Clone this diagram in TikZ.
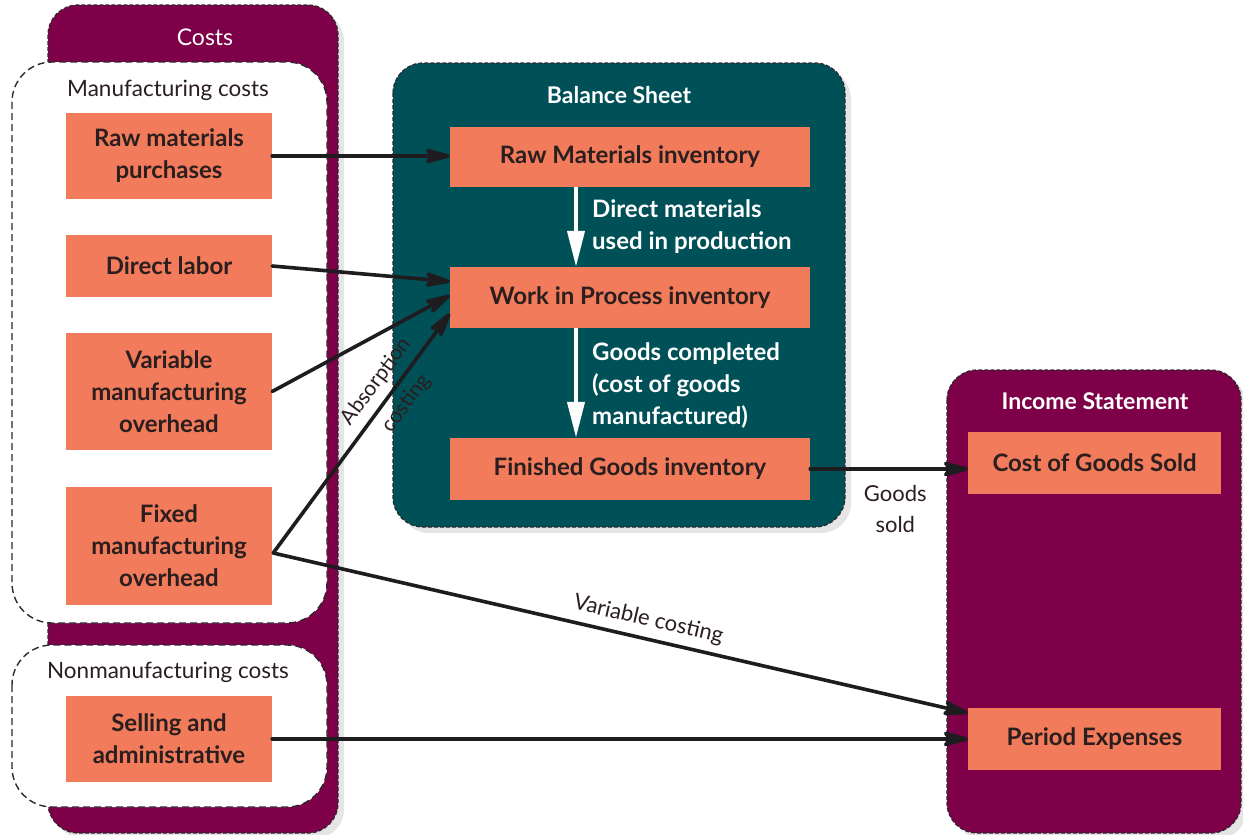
\documentclass[tikz,border=0pt]{standalone}
\usepackage{fontspec}
\setmainfont{Lato}
\usetikzlibrary{arrows.meta,calc,shadows}
\definecolor{cpurple}{RGB}{125,0,72}
\definecolor{cteal}{RGB}{0,80,88}
\definecolor{corange}{RGB}{241,123,90}
\definecolor{ctext}{RGB}{42,30,30}
\definecolor{cdash}{RGB}{45,40,45}
\definecolor{cline}{RGB}{30,28,30}
\begin{document}
\begin{tikzpicture}[x=1pt,y=-1pt,
  panel/.style={draw=cdash, line width=1.2pt, dash pattern=on 4pt off 2pt, rounded corners=30pt},
  pshadow/.style={drop shadow={opacity=0.2, shadow xshift=6pt, shadow yshift=-6pt}},
  wpanel/.style={fill=white, draw=cdash, line width=1.4pt, dash pattern=on 7pt off 4pt, rounded corners=40pt},
  box/.style={fill=corange, text=ctext, font=\bfseries\fontsize{24}{32}\selectfont, align=center, inner sep=0pt},
  ptitle/.style={text=white, font=\fontsize{23}{28}\selectfont, inner sep=2pt},
  ptitleb/.style={text=white, font=\bfseries\fontsize{23}{28}\selectfont, inner sep=2pt},
  sub/.style={text=ctext, font=\fontsize{22.5}{28}\selectfont, inner sep=2pt},
  lbl/.style={text=ctext, font=\fontsize{22}{31}\selectfont, inner sep=2pt},
  wlbl/.style={text=white, font=\bfseries\fontsize{24}{32}\selectfont, align=left, inner sep=2pt},
  conn/.style={draw=cline, line width=3.6pt, line cap=round, -{Stealth[length=32pt,width=17pt,inset=7pt,round]}},
  warrow/.style={draw=white, line width=4pt, -{Triangle[length=36pt,width=17pt]}}
]
\useasboundingbox[fill=white] (0,0) rectangle (1243,835);

% panels
\path[panel, fill=cpurple, pshadow] (48,5) rectangle (338,833);
\path[wpanel] (12,62) rectangle (327,623);
\path[wpanel] (12,645) rectangle (327,807);
\path[panel, fill=cteal, pshadow] (393,63) rectangle (845,527);
\path[panel, fill=cpurple, pshadow] (947,370) rectangle (1241,833);

% titles
\node[ptitle] (tcosts) at (205,37) {Costs};
\node[sub] (tmfg) at (168,90) {Manufacturing costs};
\node[sub] (tnon) at (168,672) {Nonmanufacturing costs};
\node[ptitleb] (tbs) at (619,95) {Balance Sheet};
\node[ptitleb] (tis) at (1095,401) {Income Statement};

% left boxes
\node[box, minimum width=206pt, minimum height=86pt] (rmp) at (169,156) {Raw materials\\purchases};
\node[box, minimum width=206pt, minimum height=62pt] (dl) at (169,266) {Direct labor};
\node[box, minimum width=206pt, minimum height=117pt] (vmo) at (169,391.5) {Variable\\manufacturing\\overhead};
\node[box, minimum width=206pt, minimum height=118pt] (fmo) at (169,546) {Fixed\\manufacturing\\overhead};
\node[box, minimum width=206pt, minimum height=86pt] (sa) at (169,739) {Selling and\\administrative};

% balance sheet boxes
\node[box, minimum width=360pt, minimum height=60pt] (rmi) at (630,157) {Raw Materials inventory};
\node[box, minimum width=360pt, minimum height=61pt] (wip) at (630,297.5) {Work in Process inventory};
\node[box, minimum width=360pt, minimum height=62pt] (fgi) at (630,469) {Finished Goods inventory};

% income statement boxes
\node[box, minimum width=253pt, minimum height=62pt] (cogs) at (1094.5,463) {Cost of Goods Sold};
\node[box, minimum width=253pt, minimum height=62pt] (pe) at (1094.5,739) {Period Expenses};

% white arrows inside balance sheet
\coordinate (ax) at (576,0);
\draw[warrow] (rmi.south -| ax) -- (wip.north -| ax);
\draw[warrow] (wip.south -| ax) -- (fgi.north -| ax);
\node[wlbl, anchor=west] (dmu) at (590,227) {Direct materials\\used in production};
\node[wlbl, anchor=west] (gcl) at (590,385) {Goods completed\\(cost of goods\\manufactured)};

% connectors
\coordinate (fx) at ($(fmo.east)+(1,7)$);
\draw[conn] (rmp.east) -- (rmp.east -| rmi.west);
\draw[conn] (dl.east) -- ($(wip.west)+(0,-16)$);
\draw[conn] (vmo.east) -- ($(wip.west)+(0,-2)$);
\draw[conn] (fx) -- node[pos=0.67, sloped, lbl, align=center, font=\fontsize{21}{37}\selectfont] (abs) {Absorption\\costing} ($(wip.west)+(0,16)$);
\draw[conn] (fx) -- node[pos=0.534, sloped, lbl, above=5pt] (vc) {Variable costing} ($(pe.west)+(0,-26)$);
\draw[conn] (sa.east) -- (sa.east -| pe.west);
\draw[conn] (fgi.east) -- node[pos=0.54, lbl, below=12pt, align=center] (gs) {Goods\\sold} (fgi.east -| cogs.west);
\end{tikzpicture}
\end{document}
